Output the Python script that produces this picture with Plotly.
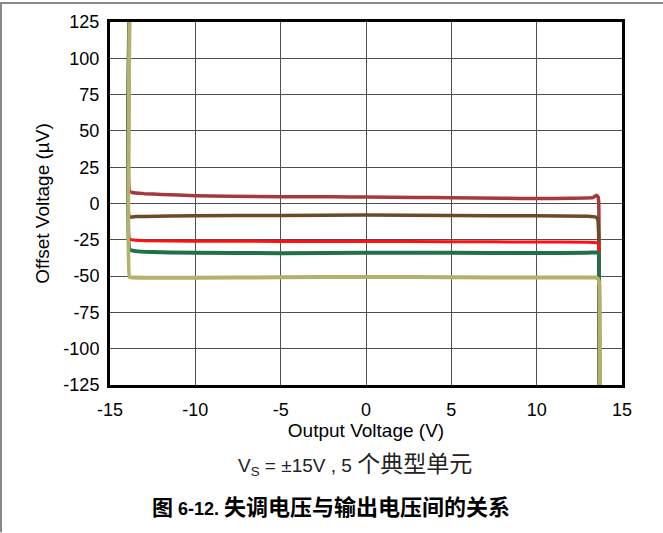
import plotly.graph_objects as go

# ---- data ----
x_ticks = [-15, -10, -5, 0, 5, 10, 15]
x_tick_labels = ["-15", "-10", "-5", "0", "5", "10", "15"]
y_ticks = [125, 100, 75, 50, 25, 0, -25, -50, -75, -100, -125]
y_tick_labels = ["125", "100", "75", "50", "25", "0", "-25", "-50", "-75", "-100", "-125"]

unit1_x = [-13.88, -13.86, -13.7, -13.0, -12.0, -10.0, -8.0, -5.0, -2.0, 0.0, 3.0, 5.0, 8.0, 10.0, 12.0, 13.3, 13.5, 13.6, 13.64, 13.66, 13.68]
unit1_y = [125, 8.5, 7.6, 6.8, 6.2, 5.4, 5.0, 4.6, 4.6, 4.5, 4.2, 4.0, 3.6, 3.4, 3.6, 4.0, 5.6, 4.5, 0.0, -40.0, -125]

unit2_x = [-13.88, -13.86, -13.5, -13.0, -10.0, -5.0, 0.0, 5.0, 10.0, 13.0, 13.45, 13.58, 13.63, 13.66, 13.68]
unit2_y = [125, -9.3, -9.0, -8.9, -8.5, -8.2, -8.0, -8.3, -8.5, -8.7, -9.3, -11.0, -20.0, -60.0, -125]

unit3_x = [-13.88, -13.86, -13.6, -13.0, -10.0, -5.0, 0.0, 5.0, 10.0, 13.0, 13.5, 13.62, 13.66, 13.68]
unit3_y = [125, -24.5, -25.2, -25.6, -26.0, -26.1, -26.2, -26.3, -26.5, -26.7, -27.0, -27.5, -60.0, -125]

unit4_x = [-13.88, -13.86, -13.6, -13.0, -10.0, -5.0, 0.0, 5.0, 10.0, 13.0, 13.5, 13.62, 13.66, 13.68]
unit4_y = [125, -31.6, -32.6, -33.3, -34.0, -34.2, -34.0, -34.0, -34.1, -33.9, -33.7, -34.0, -60.0, -125]

unit5_x = [-13.86, -13.86, -13.7, -13.0, -10.0, -5.0, 0.0, 5.0, 10.0, 13.0, 13.45, 13.6, 13.67, 13.69, 13.7]
unit5_y = [125, -50.6, -51.0, -51.1, -51.2, -50.8, -50.6, -50.8, -51.0, -50.9, -51.0, -52.0, -56.0, -70.0, -125]

series = [
    (unit1_x, unit1_y, "#A53A3D", 3.5),
    (unit2_x, unit2_y, "#6B4A26", 3.5),
    (unit3_x, unit3_y, "#FF1010", 3),
    (unit4_x, unit4_y, "#21704A", 4),
    (unit5_x, unit5_y, "#B5B06B", 4),
]

W, H = 663, 533
ml, mr, mt, mb = 110, 41, 20, 148

fig = go.Figure()
for xs, ys, col, w in series:
    fig.add_trace(go.Scatter(x=xs, y=ys, mode="lines",
                             line=dict(color=col, width=w, shape="spline", smoothing=0.3),
                             showlegend=False, hoverinfo="skip"))

font_main = "Liberation Sans, Arial, Noto Sans CJK SC, sans-serif"

fig.update_layout(
    width=W, height=H,
    margin=dict(l=ml, r=mr, t=mt, b=mb),
    paper_bgcolor="white", plot_bgcolor="white",
    font=dict(family=font_main, size=18, color="black"),
    xaxis=dict(range=[-15, 15], tickvals=x_ticks, ticktext=x_tick_labels,
               showgrid=True, gridcolor="#505050", gridwidth=1,
               showline=True, linecolor="black", linewidth=3, mirror=True,
               ticks="", zeroline=False, ticklabelstandoff=6,
               tickfont=dict(size=18, family=font_main),
               title=dict(text="Output Voltage (V)", font=dict(size=19, family=font_main), standoff=2)),
    yaxis=dict(range=[-125, 125], tickvals=y_ticks, ticktext=y_tick_labels,
               showgrid=True, gridcolor="#505050", gridwidth=1,
               showline=True, linecolor="black", linewidth=3, mirror=True,
               ticks="", zeroline=False, ticklabelstandoff=4,
               tickfont=dict(size=18, family=font_main),
               title=dict(text="Offset Voltage (µV)", font=dict(size=19, family=font_main), standoff=9)),
)

pw = W - ml - mr
ph = H - mt - mb
# outer frame (top and left gray lines)
fig.add_shape(type="line", xref="paper", yref="paper",
              x0=-ml / pw, x1=(W - ml) / pw, y0=1 + (mt - 1) / ph, y1=1 + (mt - 1) / ph,
              line=dict(color="#8A8A8A", width=2))
fig.add_shape(type="line", xref="paper", yref="paper",
              x0=(-ml + 1) / pw, x1=(-ml + 1) / pw, y0=-mb / ph, y1=1 + mt / ph,
              line=dict(color="#8A8A8A", width=2))

fig.add_annotation(xref="paper", yref="paper", x=(355 - ml) / pw, y=-(465 - (H - mb)) / ph,
                   text='V<sub>S</sub> = ±15V , 5 <span style="font-size:23px">个典型单元</span>',
                   showarrow=False,
                   font=dict(size=19, family="Liberation Sans, Noto Sans CJK SC", color="#222222"),
                   xanchor="center", yanchor="middle")
fig.add_annotation(xref="paper", yref="paper", x=(331 - ml) / pw, y=-(508 - (H - mb)) / ph,
                   text='<b><span style="font-size:21px">图</span> 6-12. '
                        '<span style="font-size:22px">失调电压与输出电压间的关系</span></b>',
                   showarrow=False,
                   font=dict(size=18, family="Liberation Sans, Noto Sans CJK SC", color="black"),
                   xanchor="center", yanchor="middle")

fig.write_html("out.html", config={"displayModeBar": False},
               post_script="document.body.style.margin='0px';")
